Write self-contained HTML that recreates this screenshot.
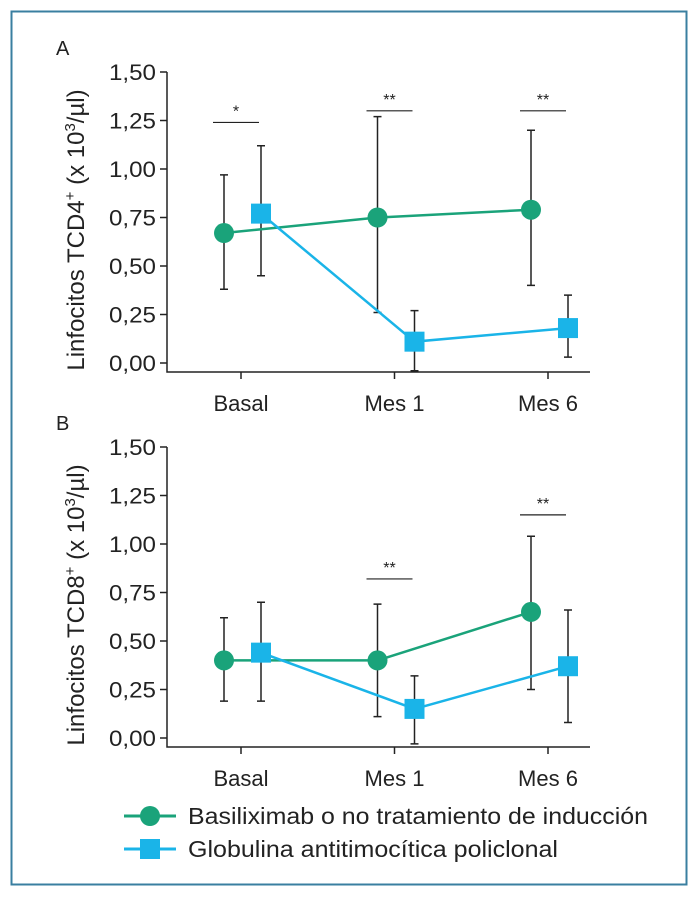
<!DOCTYPE html>
<html><head><meta charset="utf-8">
<style>
html,body{margin:0;padding:0;background:#fff;}
svg text{font-family:"Liberation Sans",sans-serif;fill:#222;}
</style></head>
<body>
<svg id="chart" width="700" height="900" viewBox="0 0 700 900" xmlns="http://www.w3.org/2000/svg">
<rect x="11.5" y="11.5" width="675" height="873" fill="none" stroke="#3a7fa0" stroke-width="2"/>
<g id="pa"></g>
<g id="pb"></g>
<g>
 <g>
  <line x1="124" y1="816" x2="176" y2="816" stroke="#1aa37a" stroke-width="3"/>
  <circle cx="150" cy="816" r="10" fill="#1aa37a"/>
  <text x="188" y="824" font-size="23" textLength="460" lengthAdjust="spacingAndGlyphs">Basiliximab o no tratamiento de inducción</text>
 </g>
 <g>
  <line x1="124" y1="849" x2="176" y2="849" stroke="#1ab4e8" stroke-width="3"/>
  <rect x="140" y="839" width="20" height="20" fill="#1ab4e8"/>
  <text x="188" y="857" font-size="23" textLength="370" lengthAdjust="spacingAndGlyphs">Globulina antitimocítica policlonal</text>
 </g>
</g>
<script>
const categories=["Basal","Mes 1","Mes 6"];
const ticks=[0,0.25,0.5,0.75,1,1.25,1.5];
const aGreen=[0.67,0.75,0.79];
const aGreenLo=[0.38,0.26,0.40];
const aGreenHi=[0.97,1.27,1.20];
const aBlue=[0.77,0.11,0.18];
const aBlueLo=[0.45,-0.04,0.03];
const aBlueHi=[1.12,0.27,0.35];
const bGreen=[0.40,0.40,0.65];
const bGreenLo=[0.19,0.11,0.25];
const bGreenHi=[0.62,0.69,1.04];
const bBlue=[0.44,0.15,0.37];
const bBlueLo=[0.19,-0.03,0.08];
const bBlueHi=[0.70,0.32,0.66];
const aSig=[{i:0,y:1.24,t:"*"},{i:1,y:1.30,t:"**"},{i:2,y:1.30,t:"**"}];
const bSig=[{i:1,y:0.82,t:"**"},{i:2,y:1.15,t:"**"}];
const NS="http://www.w3.org/2000/svg";
function mk(p,tag,at){const e=document.createElementNS(NS,tag);for(const k in at)e.setAttribute(k,at[k]);p.appendChild(e);return e;}
function panel(g,letter,cell,top,gv,gl,gh,bv,bl,bh,sig){
 const y0=top+291,yScale=v=>y0-v/1.5*291;
 const xc=i=>241+i*153.5;
 const t=mk(g,"text",{x:56,y:top-17,"font-size":20});t.textContent=letter;
 
 
 const ax=mk(g,"path",{d:`M167 ${top} V${y0+9} H590`,fill:"none",stroke:"#222","stroke-width":1.5});
 
 
 ticks.forEach(v=>{const y=yScale(v);
  const l=mk(g,"line",{x1:160,x2:167,y1:y,y2:y,stroke:"#222","stroke-width":1.5});
  
  
  const tx=mk(g,"text",{x:156,y:y+8,"font-size":22,"text-anchor":"end",textLength:47,lengthAdjust:"spacingAndGlyphs"});tx.textContent=v.toFixed(2).replace(".",",");
  
  });
 categories.forEach((c,i)=>{
  const l=mk(g,"line",{x1:xc(i),x2:xc(i),y1:y0+9,y2:y0+16,stroke:"#222","stroke-width":1.5});
  
  
  const tx=mk(g,"text",{x:xc(i),y:y0+48,"font-size":22,"text-anchor":"middle"});tx.textContent=c;
  
  });
 const yl=mk(g,"text",{transform:`translate(84 ${top+158}) rotate(-90)`,"font-size":24,"text-anchor":"middle"});
 
 
 const parts=[["Linfocitos "+cell,0,24],["+",-9,15],[" (x 10",9,24],["3",-9,15],["/µl)",9,24]];
 parts.forEach(([s,dy,fs])=>{const ts=mk(yl,"tspan",{dy:dy,"font-size":fs});ts.textContent=s;});
 sig.forEach(s=>{const x=xc(s.i),y=yScale(s.y);
  const l=mk(g,"line",{x1:x-28,x2:x+18,y1:y,y2:y,stroke:"#222","stroke-width":1.2});
  
  
  const tx=mk(g,"text",{x:x-5,y:y-6,"font-size":16,"text-anchor":"middle"});tx.textContent=s.t;
  
  });
 const series=[[gv,gl,gh,-17,"#1aa37a","circle","green"],[bv,bl,bh,20,"#1ab4e8","square","blue"]];
 series.forEach(([v,lo,hi,off,col,sh,nm])=>{
  v.forEach((d,i)=>{const x=xc(i)+off;
   const e=mk(g,"path",{d:`M${x-4} ${yScale(hi[i])}H${x+4}M${x} ${yScale(hi[i])}V${yScale(lo[i])}M${x-4} ${yScale(lo[i])}H${x+4}`,stroke:"#222","stroke-width":1.5,fill:"none"});
   
   });
 });
 series.forEach(([v,lo,hi,off,col,sh,nm])=>{
  const pl=mk(g,"polyline",{points:v.map((d,i)=>(xc(i)+off)+","+yScale(d)).join(" "),fill:"none",stroke:col,"stroke-width":2.5});
  
  
 });
 series.forEach(([v,lo,hi,off,col,sh,nm])=>{
  v.forEach((d,i)=>{const x=xc(i)+off,y=yScale(d);let m;
   if(sh=="circle")m=mk(g,"circle",{cx:x,cy:y,r:10,fill:col});
   else m=mk(g,"rect",{x:x-10,y:y-10,width:20,height:20,fill:col});
   
   });
 });
}
panel(document.getElementById("pa"),"A","TCD4",72,aGreen,aGreenLo,aGreenHi,aBlue,aBlueLo,aBlueHi,aSig);
panel(document.getElementById("pb"),"B","TCD8",447,bGreen,bGreenLo,bGreenHi,bBlue,bBlueLo,bBlueHi,bSig);
</script>
</svg>
</body></html>
